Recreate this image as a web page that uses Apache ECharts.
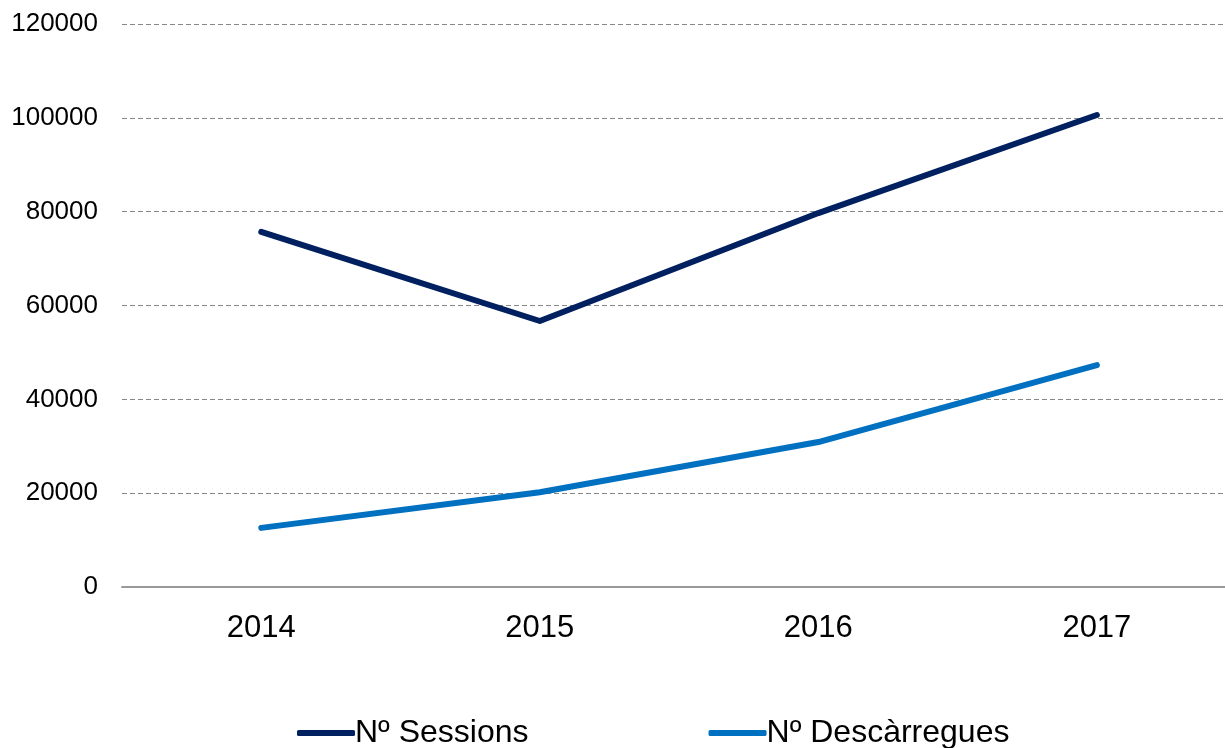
<!DOCTYPE html>
<html><head><meta charset="utf-8">
<script src="https://cdn.jsdelivr.net/npm/echarts@6/dist/echarts.min.js"></script>
<style>html,body{margin:0;padding:0;background:#fff}#c{width:1225px;height:748px}</style>
</head><body><div id="c"></div>
<script>
const years = ['2014', '2015', '2016', '2017'];
const sessions = [75700, 56700, 79700, 100600];
const downloads = [12600, 20200, 30900, 47300];
const seriesNames = ['Nº Sessions', 'Nº Descàrregues'];

const yearNums = years.map(Number);
const chart = echarts.init(document.getElementById('c'));
chart.setOption({
  animation: false,
  textStyle: { fontFamily: 'Liberation Sans, Arial, sans-serif' },
  grid: { left: 122, top: 24, right: 0, bottom: 161 },
  legend: {
    left: 292, top: 712, itemGap: 180, itemWidth: 58, itemHeight: 6,
    icon: 'roundRect',
    textStyle: { fontSize: 32, color: '#000', fontFamily: 'Liberation Sans', padding: [0,0,0,-5] },
    data: seriesNames
  },
  xAxis: {
    type: 'value', min: yearNums[0] - 0.5, max: yearNums[yearNums.length - 1] + 0.46,
    axisLine: { show: true, onZero: false, lineStyle: { color: '#999', width: 2 } },
    axisTick: { show: false },
    splitLine: { show: false },
    axisLabel: { fontSize: 31, color: '#000', margin: 26, fontFamily: 'Liberation Sans',
      customValues: yearNums, showMinLabel: true, showMaxLabel: true, formatter: v => String(v) }
  },
  yAxis: {
    type: 'value', min: 0, max: 120000, interval: 20000,
    axisLine: { show: false }, axisTick: { show: false },
    axisLabel: { fontSize: 26, color: '#000', margin: 24, fontFamily: 'Liberation Sans', formatter: v => String(v) },
    splitLine: { lineStyle: { color: '#888', type: [5, 3], width: 1 } }
  },
  series: [
    { name: seriesNames[0], type: 'line', data: yearNums.map((y, i) => [y, sessions[i]]), symbol: 'none',
      lineStyle: { color: '#002060', width: 6, cap: 'round', join: 'round' }, itemStyle: { color: '#002060' } },
    { name: seriesNames[1], type: 'line', data: yearNums.map((y, i) => [y, downloads[i]]), symbol: 'none',
      lineStyle: { color: '#0070C0', width: 6, cap: 'round', join: 'round' }, itemStyle: { color: '#0070C0' } }
  ]
});
</script></body></html>
